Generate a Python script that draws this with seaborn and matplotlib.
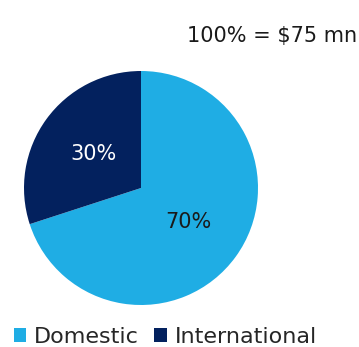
import matplotlib
matplotlib.use("Agg")
import matplotlib.pyplot as plt
import seaborn as sns
import numpy as np
from matplotlib.patches import Patch

categories = ["Domestic", "International"]
shares = [70, 30]
pct_labels = ["70%", "30%"]
colors = ["#1FADE4", "#03215E"]
label_colors = ["#1a1a1a", "white"]
total_label = "100% = $75 mn"

sns.set_theme(style="white")
plt.rcParams["font.family"] = ["DejaVu Sans"]

fig = plt.figure(figsize=(3.59, 3.47), dpi=100)
ax = fig.add_axes([24/359, 42/347, 234/359, 234/347])
wedges, _ = ax.pie(shares, colors=colors, startangle=90, counterclock=False,
                   wedgeprops=dict(linewidth=0))
ax.set_xlim(-1, 1)
ax.set_ylim(-1, 1)
ax.set_aspect("equal")
for w, txt, c in zip(wedges, pct_labels, label_colors):
    ang = np.deg2rad((w.theta1 + w.theta2) / 2)
    ax.text(0.5 * np.cos(ang), 0.5 * np.sin(ang), txt, ha="center", va="center",
            fontsize=15, color=c)

fig.text(357/359, 1 - 36/347, total_label, ha="right", va="center", fontsize=15, color="#1a1a1a")

handles = [Patch(facecolor=c, edgecolor="none") for c in colors]
fig.legend(handles, categories, loc="lower left", bbox_to_anchor=(14/359, 0.0),
           ncol=2, frameon=False, fontsize=16, handlelength=0.55, handleheight=0.55,
           handletextpad=0.35, columnspacing=0.7, borderaxespad=0, borderpad=0)

fig.savefig("out.png", dpi=100)
